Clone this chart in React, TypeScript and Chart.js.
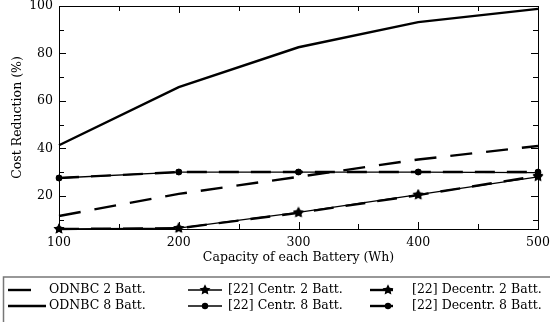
import React, { useEffect, useRef } from "react";
import { Chart, registerables } from "chart.js";

Chart.register(...registerables);

const capacities = [100, 200, 300, 400, 500];
const odnbc2 = [11.5, 20.8, 28, 35.3, 41];
const odnbc8 = [41.3, 65.8, 82.6, 93.2, 98.8];
const centr2 = [6, 6.4, 13, 20.5, 28];
const centr8 = [27.5, 30, 30, 30, 29.8];
const decentr2 = [6, 6.3, 12.8, 20.3, 28.4];
const decentr8 = [27.5, 30, 30, 30, 30];
const yTickValues = [20, 40, 60, 80, 100];
const xTitle = "Capacity of each Battery (Wh)";
const yTitle = "Cost Reduction (%)";
const legendNames = [
  "ODNBC 2 Batt.",
  "ODNBC 8 Batt.",
  "[22] Centr. 2 Batt.",
  "[22] Centr. 8 Batt.",
  "[22] Decentr. 2 Batt.",
  "[22] Decentr. 8 Batt.",
];

const FONT = "'DejaVu Serif', 'Liberation Serif', serif";

function makeStar(size: number): HTMLCanvasElement {
  const c = document.createElement("canvas");
  c.width = size;
  c.height = size;
  const ctx = c.getContext("2d")!;
  const cx = size / 2;
  const cy = size / 2;
  const ro = size / 2 - 0.3;
  const ri = ro * 0.5;
  ctx.beginPath();
  for (let i = 0; i < 10; i++) {
    const r = i % 2 === 0 ? ro : ri;
    const a = -Math.PI / 2 + (i * Math.PI) / 5;
    const px = cx + r * Math.cos(a);
    const py = cy + r * Math.sin(a);
    if (i === 0) ctx.moveTo(px, py);
    else ctx.lineTo(px, py);
  }
  ctx.closePath();
  ctx.fillStyle = "#000";
  ctx.fill();
  return c;
}

const toPts = (ys: number[]) => capacities.map((x, i) => ({ x, y: ys[i] }));

export default function App() {
  const ref = useRef<HTMLCanvasElement | null>(null);

  useEffect(() => {
    if (!ref.current) return;
    const star = makeStar(12);
    const thick = 2.4;
    const thin = 1.3;
    const dashA = [22, 14];
    const dashB = [20, 12];

    const styles = [
      { dash: dashA, width: thick, marker: null as any },
      { dash: [] as number[], width: thick, marker: null as any },
      { dash: [] as number[], width: thin, marker: "star" },
      { dash: [] as number[], width: thin, marker: "circle" },
      { dash: dashB, width: thick, marker: "star" },
      { dash: dashB, width: thick, marker: "circle" },
    ];
    const series = [odnbc2, odnbc8, centr2, centr8, decentr2, decentr8];

    const datasets = series.map((s, i) => {
      const st = styles[i];
      return {
        label: legendNames[i],
        data: toPts(s),
        borderColor: "#000",
        backgroundColor: "#000",
        borderWidth: st.width,
        borderDash: st.dash,
        pointStyle: st.marker === "star" ? star : "circle",
        pointRadius: st.marker ? 3.2 : 0,
        pointBorderWidth: 0,
        pointBackgroundColor: "#000",
        tension: 0,
        clip: false as any,
        fill: false,
      };
    });

    const framePlugin = {
      id: "frameTicks",
      afterDraw(chart: any) {
        const ctx = chart.ctx;
        const a = chart.chartArea;
        const xs = chart.scales.x;
        const ys = chart.scales.y;
        ctx.save();
        ctx.strokeStyle = "#000";
        ctx.lineWidth = 1;
        ctx.setLineDash([]);
        ctx.strokeRect(a.left + 0.5, a.top + 0.5, a.right - a.left, a.bottom - a.top);
        ctx.beginPath();
        for (let v = 100; v <= 500; v += 50) {
          const px = Math.round(xs.getPixelForValue(v)) + 0.5;
          const len = v % 100 === 0 ? 7 : 5;
          ctx.moveTo(px, a.bottom);
          ctx.lineTo(px, a.bottom - len);
          ctx.moveTo(px, a.top);
          ctx.lineTo(px, a.top + len);
        }
        for (let v = 10; v <= 100; v += 10) {
          if (v < ys.min) continue;
          const py = Math.round(ys.getPixelForValue(v)) + 0.5;
          const len = v % 20 === 0 ? 7 : 5;
          ctx.moveTo(a.left, py);
          ctx.lineTo(a.left + len, py);
          ctx.moveTo(a.right, py);
          ctx.lineTo(a.right - len, py);
        }
        ctx.stroke();

        // axis titles
        ctx.fillStyle = "#000";
        ctx.font = `12.5px ${FONT}`;
        ctx.textAlign = "center";
        ctx.textBaseline = "middle";
        ctx.fillText(xTitle, (a.left + a.right) / 2, 258);
        ctx.save();
        ctx.translate(18, (a.top + a.bottom) / 2);
        ctx.rotate(-Math.PI / 2);
        ctx.fillText(yTitle, 0, 0);
        ctx.restore();

        // legend box
        ctx.strokeStyle = "#777";
        ctx.lineWidth = 1.5;
        ctx.strokeRect(3.5, 277, 600, 100);

        const cols = [
          { x0: 8, x1: 46, tx: 49 },
          { x0: 188, x1: 222, tx: 228 },
          { x0: 370, x1: 406, tx: 412 },
        ];
        const rows = [290, 306];
        ctx.font = `12.5px ${FONT}`;
        ctx.textAlign = "left";
        for (let i = 0; i < 6; i++) {
          const col = cols[Math.floor(i / 2)];
          const y = rows[i % 2];
          const st = styles[i];
          ctx.strokeStyle = "#000";
          ctx.lineWidth = st.width;
          ctx.setLineDash(st.dash.length ? [23, 40] : []);
          ctx.beginPath();
          ctx.moveTo(col.x0, y);
          ctx.lineTo(col.x1, y);
          ctx.stroke();
          ctx.setLineDash([]);
          const mx = i >= 4 ? 388 : (col.x0 + col.x1) / 2;
          if (st.marker === "star") {
            ctx.drawImage(star, mx - 6, y - 6, 12, 12);
          } else if (st.marker === "circle") {
            ctx.beginPath();
            ctx.arc(mx, y, 3.2, 0, Math.PI * 2);
            ctx.fillStyle = "#000";
            ctx.fill();
          }
          ctx.fillStyle = "#000";
          ctx.fillText(legendNames[i], col.tx, y);
        }
        ctx.restore();
      },
    };

    const chart = new Chart(ref.current, {
      type: "line",
      data: { datasets: datasets as any },
      options: {
        animation: false,
        responsive: false,
        maintainAspectRatio: false,
        layout: { padding: { left: 0, right: 12, top: 6, bottom: 53 } },
        plugins: { legend: { display: false }, tooltip: { enabled: false } },
        scales: {
          x: {
            type: "linear",
            min: 100,
            max: 500,
            grid: { display: false, drawTicks: false },
            border: { display: false },
            ticks: {
              stepSize: 100,
              color: "#000",
              padding: 7,
              font: { family: FONT, size: 12.5, lineHeight: 1 },
              maxRotation: 0,
            },
            afterFit: (s: any) => {
              s.height = 40;
              s.paddingLeft = 0;
              s.paddingRight = 0;
            },
          },
          y: {
            type: "linear",
            min: 6,
            max: 100,
            grid: { display: false, drawTicks: false },
            border: { display: false },
            ticks: {
              color: "#000",
              padding: 6,
              font: { family: FONT, size: 12.5, lineHeight: 1 },
            },
            afterBuildTicks: (s: any) => {
              s.ticks = yTickValues.map((v) => ({ value: v }));
            },
            afterFit: (s: any) => {
              s.width = 59;
              s.paddingTop = 0;
              s.paddingBottom = 0;
            },
          },
        },
      },
      plugins: [framePlugin],
    });
    return () => chart.destroy();
  }, []);

  return (
    <div style={{ position: "fixed", left: 0, top: 0, width: 550, height: 322, background: "#fff" }}>
      <canvas ref={ref} width={550} height={322} style={{ width: 550, height: 322, display: "block" }} />
    </div>
  );
}
